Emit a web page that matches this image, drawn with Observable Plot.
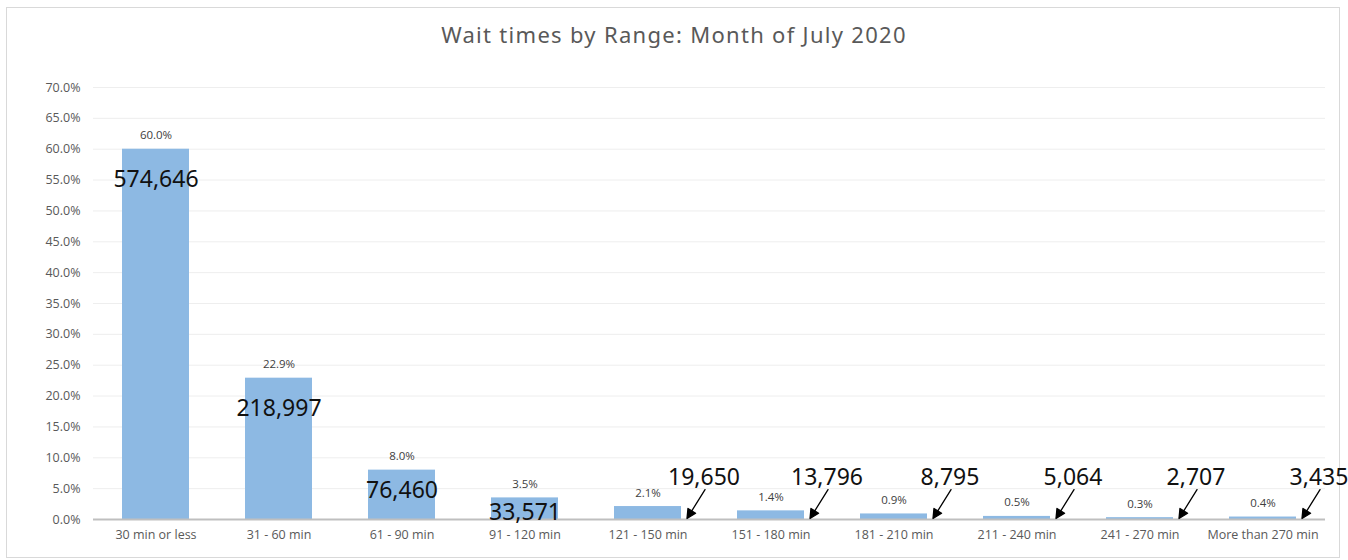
<!DOCTYPE html>
<html>
<head>
<meta charset="utf-8">
<script src="https://cdn.jsdelivr.net/npm/d3@7"></script>
<script src="https://cdn.jsdelivr.net/npm/@observablehq/plot@0.6"></script>
<style>
  html, body { margin: 0; padding: 0; background: #fff; }
  #frame { position: absolute; left: 6px; top: 7px; width: 1334px; height: 551px; border: 1px solid #d9d9d9; box-sizing: border-box; }
  #title { position: absolute; left: 0; top: 20px; width: 1348px; text-align: center; font-family: "Noto Sans", sans-serif; font-size: 22px; letter-spacing: 1.3px; color: #595959; line-height: 28px; }
  #chart { position: absolute; left: 0; top: 60px; }
</style>
</head>
<body>
<div id="frame"></div>
<div id="title">Wait times by Range: Month of July 2020</div>
<div id="chart"></div>
<script>
const categories = ["30 min or less", "31 - 60 min", "61 - 90 min", "91 - 120 min", "121 - 150 min",
  "151 - 180 min", "181 - 210 min", "211 - 240 min", "241 - 270 min", "More than 270 min"];
const percents = [60.0, 22.9, 8.0, 3.5, 2.1, 1.4, 0.9, 0.5, 0.3, 0.4];
const counts = [574646, 218997, 76460, 33571, 19650, 13796, 8795, 5064, 2707, 3435];
const yTicks = [0, 5, 10, 15, 20, 25, 30, 35, 40, 45, 50, 55, 60, 65, 70];

const data = categories.map((c, i) => ({category: c, pct: percents[i], count: counts[i], idx: i}));
const fmt = d3.format(",");

const arrowShape = {
  draw(context, l) {
    const h = 9, w = 4.5;
    context.moveTo(0, 0);
    context.lineTo(0, -l + h);
    context.moveTo(-w, -l + h);
    context.lineTo(0, -l);
    context.lineTo(w, -l + h);
    context.closePath();
  }
};

const chart = Plot.plot({
  width: 1348,
  height: 500,
  marginLeft: 93,
  marginRight: 23,
  marginTop: 27,
  marginBottom: 41,
  style: {fontFamily: "'Open Sans', sans-serif", fontSize: "12.5px", color: "#595959", background: "transparent"},
  x: {domain: categories, paddingInner: 0.456, paddingOuter: 0.228, label: null, tickSize: 0, tickPadding: 11},
  y: {domain: [0, 70], ticks: yTicks, tickFormat: d => d.toFixed(1) + "%", label: null, tickSize: 0, tickPadding: 13, grid: true},
  marks: [
    Plot.barY(data, {x: "category", y: "pct", fill: "#8db9e3"}),
    Plot.ruleY([0], {stroke: "#bfbfbf", strokeWidth: 2}),
    Plot.text(data, {x: "category", y: "pct", text: d => d.pct.toFixed(1) + "%", lineAnchor: "bottom", dy: -10, fontSize: 11.5, fill: "#404040"}),
    Plot.text(data.filter(d => d.idx < 2), {x: "category", y: "pct", text: d => fmt(d.count), lineAnchor: "middle", dy: 30, fontSize: 23, fill: "#111", fontFamily: "'Noto Sans', sans-serif"}),
    Plot.text(data.filter(d => d.idx === 2), {x: "category", y: "pct", text: d => fmt(d.count), lineAnchor: "middle", dy: 20, fontSize: 23, fill: "#111", fontFamily: "'Noto Sans', sans-serif"}),
    Plot.text(data.filter(d => d.idx === 3), {x: "category", y: "pct", text: d => fmt(d.count), lineAnchor: "middle", dy: 15, fontSize: 23, fill: "#111", fontFamily: "'Noto Sans', sans-serif"}),
    Plot.text(data.filter(d => d.idx >= 4), {x: "category", y: 0, text: d => fmt(d.count), lineAnchor: "middle", dx: 56, dy: -42, fontSize: 23, fill: "#111", fontFamily: "'Noto Sans', sans-serif"}),
    Plot.vector(data.filter(d => d.idx >= 4), {x: "category", y: 0, length: 34, rotate: 212, anchor: "end", shape: arrowShape, dx: 39, dy: -1, stroke: "#000", fill: "#000", strokeWidth: 1.3})
  ]
});
document.getElementById("chart").appendChild(chart);
</script>
</body>
</html>
